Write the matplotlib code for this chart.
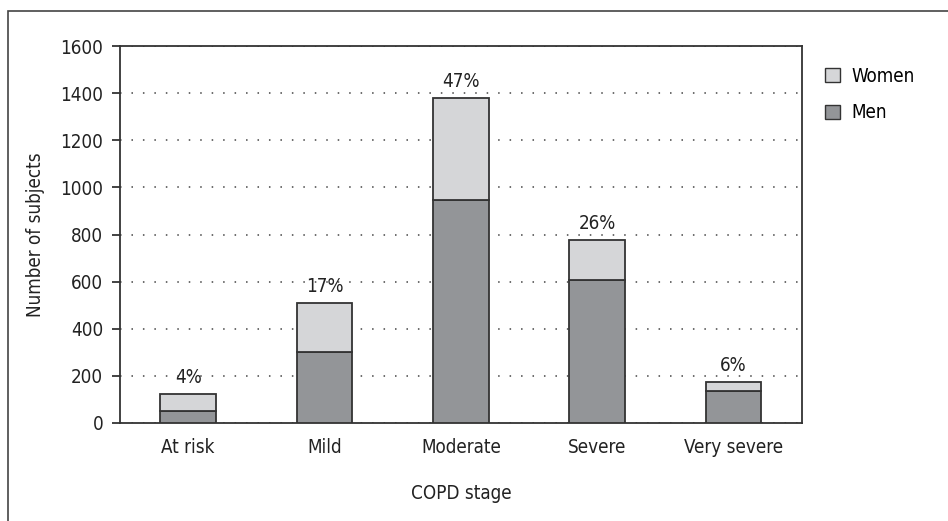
import matplotlib.pyplot as plt
from matplotlib.patches import Patch, Rectangle

plt.rcParams["font.family"] = ["DejaVu Sans"]
plt.rcParams["font.stretch"] = "condensed"

stages = ["At risk", "Mild", "Moderate", "Severe", "Very severe"]
men = [52, 300, 945, 607, 136]
totals = [123, 511, 1378, 777, 175]
women = [t - m for t, m in zip(totals, men)]
share_labels = ["4%", "17%", "47%", "26%", "6%"]

MEN_COLOR = "#939598"
WOMEN_COLOR = "#d5d6d8"
EDGE = "#333333"
TEXT = "#222222"
FONT_SIZE = 13.5

figure = plt.figure(figsize=(9.48, 5.21), dpi=100)
axis = figure.add_axes([0.1266, 0.1881, 0.719, 0.7236])

# outer frame, only left and top edges visible in the crop
figure.patches.append(
    Rectangle((8 / 948, -0.1), 1.2, 1.1 - 11 / 521, transform=figure.transFigure,
              fill=False, edgecolor="#444444", linewidth=1.2)
)

x = range(len(stages))
width = 0.41
axis.bar(x, men, width, color=MEN_COLOR, edgecolor=EDGE, linewidth=1.3, zorder=3, label="Men")
axis.bar(x, women, width, bottom=men, color=WOMEN_COLOR, edgecolor=EDGE, linewidth=1.3,
         zorder=3, label="Women")

for xi, total, text in zip(x, totals, share_labels):
    axis.annotate(text, (xi, total), xytext=(0, 5), textcoords="offset points",
                  ha="center", va="bottom", fontsize=FONT_SIZE, color=TEXT)

axis.set_xlim(-0.5, 4.5)
axis.set_ylim(0, 1600)
axis.set_yticks(range(0, 1601, 200))
axis.set_xticks(list(x))
axis.set_xticklabels(stages)
axis.tick_params(axis="y", direction="out", length=6, width=1.2, labelsize=FONT_SIZE, pad=6,
                 colors=TEXT)
axis.tick_params(axis="x", length=0, labelsize=FONT_SIZE, pad=11, colors=TEXT)
axis.yaxis.grid(True, linestyle=(0, (1, 6.5)), color="#444444", linewidth=1.1, zorder=0)
axis.set_axisbelow(True)
for spine in axis.spines.values():
    spine.set_color("#333333")
    spine.set_linewidth(1.3)

axis.set_ylabel("Number of subjects", fontsize=FONT_SIZE, labelpad=11, color=TEXT)
axis.set_xlabel("COPD stage", fontsize=FONT_SIZE, labelpad=19, color=TEXT)

handles = [
    Patch(facecolor=WOMEN_COLOR, edgecolor=EDGE, label="Women"),
    Patch(facecolor=MEN_COLOR, edgecolor=EDGE, label="Men"),
]
axis.legend(handles=handles, loc="upper left", bbox_to_anchor=(1.01, 0.99), frameon=False,
            fontsize=FONT_SIZE, handlelength=0.8, handleheight=0.8, handletextpad=0.6,
            labelspacing=0.95)

figure.savefig("out.png", dpi=100)
plt.close(figure)
